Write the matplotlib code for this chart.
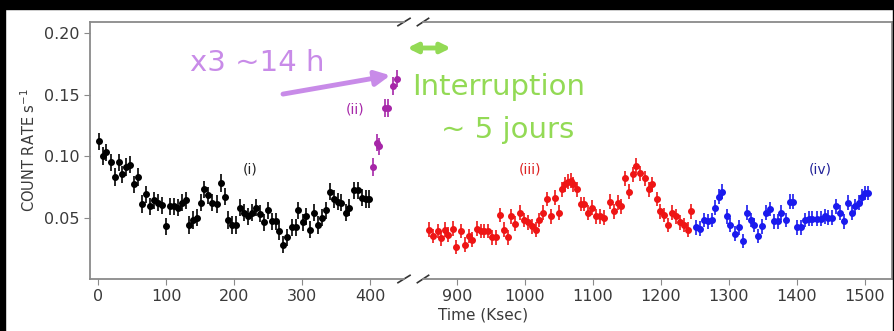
import numpy as np
import matplotlib
matplotlib.use("Agg")
import matplotlib.pyplot as plt
from matplotlib.patches import Rectangle

# ---- data (Ksec, counts/s)
t_i = [1.5, 7, 12, 19, 25, 31, 35, 41, 47, 53, 59, 65, 71, 76, 82, 88, 94, 100, 106, 112,
       118, 124, 129, 134, 140, 145, 151, 156, 162, 168, 175, 181, 186, 191, 197, 203, 209,
       215, 221, 226, 232, 238, 244, 250, 256, 262, 266, 272, 278, 285, 291, 294, 301, 306,
       312, 318, 324, 330, 335, 341, 347, 353, 358, 364, 369, 376, 382, 388, 394, 399]
r_i = [0.112, 0.100, 0.103, 0.095, 0.083, 0.095, 0.085, 0.091, 0.093, 0.077, 0.083, 0.061,
       0.069, 0.059, 0.064, 0.062, 0.060, 0.043, 0.059, 0.059, 0.058, 0.062, 0.064, 0.044,
       0.048, 0.050, 0.062, 0.073, 0.068, 0.062, 0.061, 0.078, 0.067, 0.048, 0.044, 0.044,
       0.058, 0.054, 0.051, 0.054, 0.058, 0.053, 0.046, 0.056, 0.047, 0.047, 0.039, 0.028,
       0.034, 0.042, 0.042, 0.056, 0.046, 0.051, 0.040, 0.054, 0.044, 0.050, 0.056, 0.071,
       0.065, 0.063, 0.062, 0.054, 0.058, 0.072, 0.072, 0.066, 0.065, 0.065]

t_ii = [404, 410, 413, 422, 426, 434, 440]
r_ii = [0.091, 0.111, 0.108, 0.139, 0.139, 0.157, 0.163]

t_iii = [859, 865, 872, 877, 883, 887, 894, 899, 906, 912, 918, 922, 929, 935, 940, 945,
         952, 958, 963, 969, 975, 980, 986, 993, 999, 1005, 1011, 1016, 1021, 1027, 1032,
         1038, 1044, 1050, 1055, 1059, 1064, 1068, 1071, 1076, 1082, 1087, 1093, 1099, 1105,
         1110, 1117, 1125, 1131, 1137, 1142, 1147, 1153, 1159, 1164, 1170, 1176, 1183, 1187,
         1194, 1199, 1204, 1211, 1217, 1222, 1228, 1234, 1240, 1245]
r_iii = [0.040, 0.035, 0.039, 0.033, 0.040, 0.036, 0.041, 0.026, 0.039, 0.028, 0.035, 0.032,
         0.041, 0.039, 0.039, 0.039, 0.034, 0.034, 0.052, 0.040, 0.034, 0.051, 0.045, 0.054,
         0.048, 0.046, 0.043, 0.040, 0.048, 0.054, 0.065, 0.051, 0.066, 0.054, 0.073, 0.077,
         0.079, 0.080, 0.077, 0.073, 0.061, 0.061, 0.054, 0.058, 0.051, 0.051, 0.050, 0.063,
         0.055, 0.062, 0.059, 0.082, 0.071, 0.085, 0.092, 0.086, 0.082, 0.073, 0.077, 0.065,
         0.055, 0.052, 0.044, 0.054, 0.051, 0.046, 0.044, 0.040, 0.055]

t_iv = [1252, 1257, 1263, 1270, 1275, 1280, 1285, 1290, 1297, 1302, 1309, 1315, 1321, 1327,
        1332, 1337, 1343, 1349, 1355, 1360, 1366, 1373, 1377, 1384, 1390, 1394, 1400, 1406,
        1412, 1418, 1423, 1429, 1435, 1441, 1446, 1452, 1458, 1464, 1470, 1475, 1481, 1486,
        1491, 1496, 1501, 1505]
r_iv = [0.042, 0.041, 0.048, 0.047, 0.048, 0.058, 0.067, 0.071, 0.051, 0.044, 0.037, 0.042,
        0.031, 0.054, 0.048, 0.044, 0.035, 0.043, 0.054, 0.057, 0.047, 0.047, 0.054, 0.048,
        0.063, 0.063, 0.042, 0.042, 0.048, 0.049, 0.049, 0.049, 0.049, 0.051, 0.050, 0.050,
        0.059, 0.054, 0.047, 0.062, 0.054, 0.059, 0.062, 0.067, 0.070, 0.070]

yerr_i = 0.007
yerr_ii = 0.007
yerr_iii = 0.006
yerr_iv = 0.006
xerr = 2.5

left_ticks = [0, 100, 200, 300, 400]
right_ticks = [900, 1000, 1100, 1200, 1300, 1400, 1500]
y_ticks = [0.05, 0.10, 0.15, 0.20]

spine_col = '#8a8a8a'
tick_col = '#3a3a3a'

fig = plt.figure(figsize=(8.95, 3.31), dpi=100)
ax1 = fig.add_axes([0.1006, 0.1571, 0.3508, 0.7764])
ax2 = fig.add_axes([0.4726, 0.1571, 0.5240, 0.7764])

for ax in (ax1, ax2):
    ax.set_ylim(0.0, 0.209)
    for s in ax.spines.values():
        s.set_color(spine_col)
        s.set_linewidth(1.3)
    ax.tick_params(colors=spine_col, labelcolor=tick_col, labelsize=11.5, length=4)

ax1.set_xlim(-11.8, 450)
ax2.set_xlim(850, 1540)
ax1.set_xticks(left_ticks)
ax2.set_xticks(right_ticks)
ax1.set_yticks(y_ticks)
ax1.set_yticklabels(['0.05', '0.10', '0.15', '0.20'])
ax2.set_yticks([])
ax1.spines['right'].set_visible(False)
ax2.spines['left'].set_visible(False)

kw = dict(fmt='o', ms=4, elinewidth=1.2, capsize=0)
ax1.errorbar(t_i, r_i, yerr=yerr_i, xerr=xerr, color='black', **kw)
ax1.errorbar(t_ii, r_ii, yerr=yerr_ii, xerr=xerr, color='#a626a8', **kw)
ax2.errorbar(t_iii, r_iii, yerr=yerr_iii, xerr=xerr, color='#ee1515', **kw)
ax2.errorbar(t_iv, r_iv, yerr=yerr_iv, xerr=xerr, color='#1a1aee', **kw)

ax1.text(224, 0.089, '(i)', color='#222222', fontsize=10, ha='center', va='center')
ax1.text(378, 0.138, '(ii)', color='#a626a8', fontsize=10, ha='center', va='center')
ax2.text(1007, 0.089, '(iii)', color='#dd2222', fontsize=10, ha='center', va='center')
ax2.text(1434, 0.089, '(iv)', color='#222299', fontsize=10, ha='center', va='center')

ax1.set_ylabel('COUNT RATE s$^{-1}$', fontsize=10.5, color=tick_col)
fig.text(0.54, 0.025, 'Time (Ksec)', fontsize=11, color=tick_col, ha='center', va='bottom')

# break marks
d = 0.012
bk = dict(color='#333333', clip_on=False, lw=1.2)
ax1.plot((1 - d * 1.6, 1 + d * 1.6), (-d * 1.2, d * 1.2), transform=ax1.transAxes, **bk)
ax1.plot((1 - d * 1.6, 1 + d * 1.6), (1 - d * 1.2, 1 + d * 1.2), transform=ax1.transAxes, **bk)
ax2.plot((-d, d), (-d * 1.2, d * 1.2), transform=ax2.transAxes, **bk)
ax2.plot((-d, d), (1 - d * 1.2, 1 + d * 1.2), transform=ax2.transAxes, **bk)

# annotations
purple = '#c88be8'
green = '#93da55'
fig.text(0.212, 0.81, 'x3 ~14 h', color=purple, fontsize=21, family='DejaVu Sans', va='center')
ax1.annotate('', xy=(434, 0.166), xytext=(268, 0.150),
             arrowprops=dict(arrowstyle='-|>', color=purple, lw=3.5, mutation_scale=22))
fig.text(0.460, 0.737, 'Interruption', color=green, fontsize=21, family='DejaVu Sans', va='center')
fig.text(0.567, 0.607, '~ 5 jours', color=green, fontsize=21, family='DejaVu Sans', ha='center', va='center')
fig.add_artist(matplotlib.patches.FancyArrowPatch((0.452, 0.855), (0.507, 0.855),
               transform=fig.transFigure, arrowstyle='<|-|>', color=green, lw=3.5,
               mutation_scale=14))

# dark frame around the picture
fig.add_artist(Rectangle((0, 1 - 9 / 331), 1, 9 / 331, transform=fig.transFigure, color='black'))
fig.add_artist(Rectangle((0, 0), 5 / 895, 1, transform=fig.transFigure, color='black'))
fig.add_artist(Rectangle((893 / 895, 0), 2 / 895, 1, transform=fig.transFigure, color='black'))

fig.savefig('out.png', dpi=100)
